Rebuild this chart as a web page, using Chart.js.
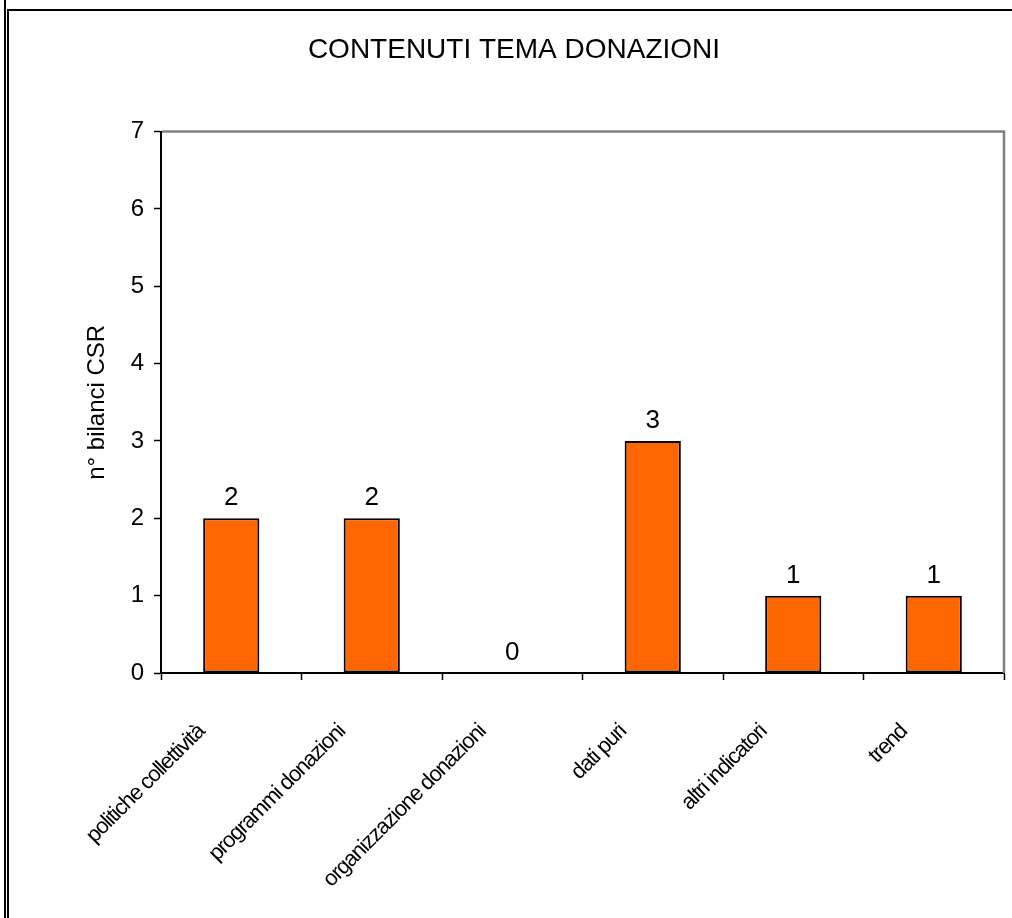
<!DOCTYPE html>
<html>
<head>
<meta charset="utf-8">
<script src="https://cdn.jsdelivr.net/npm/chart.js@4/dist/chart.umd.min.js"></script>
<style>
  html, body { margin: 0; padding: 0; background: #fff; overflow: hidden; }
  #wrap { position: relative; width: 1012px; height: 918px; }
  #chart { position: absolute; left: 0; top: 0; }
  .rule { position: absolute; background: #000; }
</style>
</head>
<body>
<div id="wrap">
  <canvas id="chart" width="1012" height="918"></canvas>
  <div class="rule" style="left:4px;top:0;width:2px;height:918px"></div>
  <div class="rule" style="left:7px;top:9px;width:2px;height:909px"></div>
  <div class="rule" style="left:7px;top:9px;width:1005px;height:2px"></div>
</div>
<script>
// ---- data ----------------------------------------------------------
const TITLE      = 'CONTENUTI TEMA DONAZIONI';
const Y_TITLE    = 'n° bilanci CSR';
const CATEGORIES = [
  'politiche collettività',
  'programmi donazioni',
  'organizzazione donazioni',
  'dati puri',
  'altri indicatori',
  'trend',
];
const VALUES     = [2, 2, 0, 3, 1, 1];
const Y_MIN = 0, Y_MAX = 7, Y_STEP = 1;

const FONT = 'Arial, "Liberation Sans", sans-serif';

// grey frame on top/right of the plot area (left/bottom are the black axes)
const plotFrame = {
  id: 'plotFrame',
  beforeDatasetsDraw(chart) {
    const { ctx, chartArea: a } = chart;
    ctx.save();
    ctx.strokeStyle = '#808080';
    ctx.lineWidth = 2.5;
    ctx.beginPath();
    ctx.moveTo(a.left + 1, a.top);
    ctx.lineTo(a.right, a.top);
    ctx.lineTo(a.right, a.bottom);
    ctx.stroke();
    ctx.restore();
  },
};

// value labels above each bar
const valueLabels = {
  id: 'valueLabels',
  afterDatasetsDraw(chart) {
    const { ctx } = chart;
    const meta = chart.getDatasetMeta(0);
    ctx.save();
    ctx.fillStyle = '#000';
    ctx.font = '26px ' + FONT;
    ctx.textAlign = 'center';
    ctx.textBaseline = 'alphabetic';
    meta.data.forEach((bar, i) => {
      ctx.fillText(String(VALUES[i]), bar.x, bar.y - 13);
    });
    ctx.restore();
  },
};

// the category labels in the original are set tight, so squeeze them a bit
function tightLabels(scale) {
  if (scale._tight) return;
  const draw = scale.drawLabels.bind(scale);
  scale.drawLabels = function (area) {
    const c = this.ctx;
    c.save();
    c.letterSpacing = '-1.2px';
    draw(area);
    c.restore();
  };
  scale._tight = true;
}

new Chart(document.getElementById('chart').getContext('2d'), {
  type: 'bar',
  data: {
    labels: CATEGORIES,
    datasets: [{
      data: VALUES,
      backgroundColor: '#FF6600',
      borderColor: '#000',
      borderWidth: 2,
      borderSkipped: false,
      barPercentage: 0.4,
      categoryPercentage: 1,
    }],
  },
  options: {
    responsive: false,
    animation: false,
    devicePixelRatio: 1,
    layout: { padding: { left: 24, right: 8, top: 0, bottom: 0 } },
    plugins: {
      legend: { display: false },
      tooltip: { enabled: false },
      title: {
        display: true,
        text: TITLE,
        color: '#000',
        font: { family: FONT, size: 28, weight: 'normal', lineHeight: 1.2 },
        padding: { top: 33, bottom: 65 },
      },
    },
    scales: {
      x: {
        offset: true,
        afterFit: s => { s.height = 918 - 673; },
        afterUpdate: tightLabels,
        border: { display: true, color: '#000', width: 2 },
        grid: {
          offset: true,
          drawOnChartArea: false,
          drawTicks: true,
          tickLength: 7,
          tickColor: '#000',
          tickWidth: 1.5,
        },
        ticks: {
          color: '#000',
          font: { family: FONT, size: 22 },
          minRotation: 45,
          maxRotation: 45,
          autoSkip: false,
          padding: 39,
          labelOffset: -30,
        },
      },
      y: {
        min: Y_MIN,
        max: Y_MAX,
        afterFit: s => { s.width = 137; },
        border: { display: true, color: '#000', width: 2 },
        grid: {
          drawOnChartArea: false,
          drawTicks: true,
          tickLength: 7,
          tickColor: '#000',
          tickWidth: 1.5,
        },
        ticks: {
          stepSize: Y_STEP,
          color: '#000',
          font: { family: FONT, size: 24 },
          padding: 10,
        },
        title: {
          display: true,
          text: Y_TITLE,
          color: '#000',
          font: { family: FONT, size: 24 },
          padding: { top: 59, bottom: 0 },
        },
      },
    },
  },
  plugins: [plotFrame, valueLabels],
});
</script>
</body>
</html>
